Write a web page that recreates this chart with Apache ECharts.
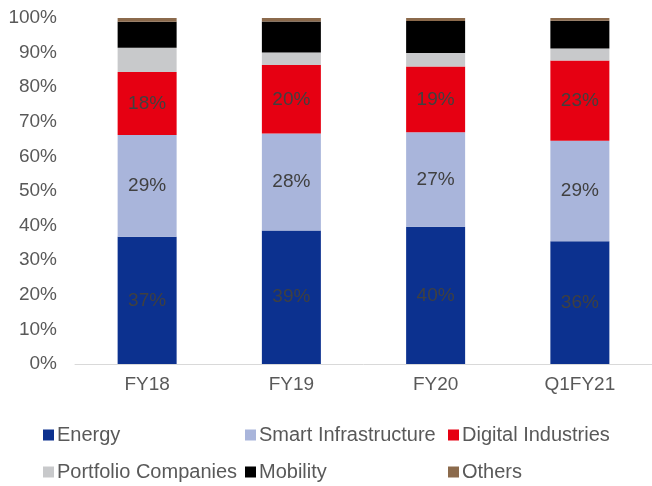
<!DOCTYPE html>
<html>
<head>
<meta charset="utf-8">
<script src="https://cdn.jsdelivr.net/npm/echarts@6/dist/echarts.min.js"></script>
<style>
  html, body { margin: 0; padding: 0; background: #fff; }
  #chart { width: 652px; height: 486px; }
</style>
</head>
<body>
<div id="chart"></div>
<script>
  // 各业务收入占比 (%)
  const categories = ['FY18', 'FY19', 'FY20', 'Q1FY21'];
  const energy = [36.8, 38.6, 39.7, 35.5];
  const smartInfra = [29.4, 28.0, 27.3, 29.0];
  const digital = [18.2, 19.8, 19.0, 23.2];
  const portfolio = [7.0, 3.6, 3.9, 3.5];
  const mobility = [7.5, 9.0, 9.2, 8.0];
  const others = [1.1, 1.0, 0.9, 0.8];
  const yTicks = [0, 10, 20, 30, 40, 50, 60, 70, 80, 90, 100];

  const textColor = '#595959';
  const fontFamily = 'Liberation Sans, Arial, sans-serif';

  function makeSeries(name, data, color, showLabel) {
    return {
      name: name,
      type: 'bar',
      stack: 'total',
      barWidth: 59,
      data: data,
      itemStyle: { color: color },
      label: {
        show: showLabel,
        position: 'inside',
        color: '#404040',
        fontSize: 19,
        fontFamily: fontFamily,
        formatter: function (p) {
          return Math.round(p.value) + '%';
        }
      }
    };
  }

  // 图例按三列排布
  const legendItems = [
    { name: 'Energy', left: 43, top: 425 },
    { name: 'Smart Infrastructure', left: 245, top: 425 },
    { name: 'Digital Industries', left: 448, top: 425 },
    { name: 'Portfolio Companies', left: 43, top: 462 },
    { name: 'Mobility', left: 245, top: 462 },
    { name: 'Others', left: 448, top: 462 }
  ];

  const chart = echarts.init(document.getElementById('chart'));
  chart.setOption({
    animation: false,
    grid: {
      left: 75,
      top: 18,
      width: 580,
      height: 346,
      containLabel: false
    },
    legend: legendItems.map(function (item) {
      return {
        data: [item.name],
        left: item.left,
        top: item.top,
        icon: 'rect',
        itemWidth: 11,
        itemHeight: 11,
        itemGap: 4,
        padding: 0,
        textStyle: {
          color: textColor,
          fontSize: 20,
          fontFamily: fontFamily,
          padding: [0, 0, 0, -2]
        }
      };
    }),
    xAxis: {
      type: 'category',
      data: categories,
      axisTick: { show: false },
      axisLine: { show: true, lineStyle: { color: '#d9d9d9', width: 1 } },
      axisLabel: {
        color: textColor,
        fontSize: 19,
        fontFamily: fontFamily,
        margin: 11
      }
    },
    yAxis: {
      type: 'value',
      min: yTicks[0],
      max: yTicks[yTicks.length - 1],
      interval: 10,
      axisLine: { show: false },
      axisTick: { show: false },
      splitLine: { show: false },
      axisLabel: {
        color: textColor,
        fontSize: 19,
        fontFamily: fontFamily,
        margin: 18,
        formatter: '{value}%'
      }
    },
    series: [
      makeSeries('Energy', energy, '#0c318f', true),
      makeSeries('Smart Infrastructure', smartInfra, '#a9b5db', true),
      makeSeries('Digital Industries', digital, '#e60012', true),
      makeSeries('Portfolio Companies', portfolio, '#c8c9cb', false),
      makeSeries('Mobility', mobility, '#000000', false),
      makeSeries('Others', others, '#8b6a4c', false)
    ]
  });
</script>
</body>
</html>
